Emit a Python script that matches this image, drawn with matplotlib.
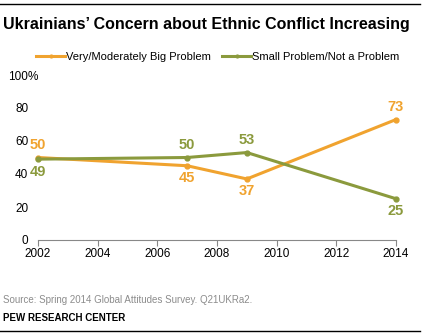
import matplotlib
matplotlib.use("Agg")
from matplotlib import pyplot as plt
from matplotlib.lines import Line2D

plt.rcParams['font.family'] = ['Liberation Sans', 'DejaVu Sans']

years = [2002, 2007, 2009, 2014]
big_problem = [50, 45, 37, 73]
small_problem = [49, 50, 53, 25]
series_names = ["Very/Moderately Big Problem", "Small Problem/Not a Problem"]
x_ticks = [2002, 2004, 2006, 2008, 2010, 2012, 2014]
y_ticks = [0, 20, 40, 60, 80, 100]
y_labels = ["0", "20", "40", "60", "80", "100"]

orange = '#F0A32F'
green = '#8B9A3D'

fig = plt.figure(figsize=(4.22, 3.35), dpi=100)
# pixel-based axes placement
W, H = 422, 335
x0, x1 = 38, 396
y0, y1 = 240, 75
ax = fig.add_axes([x0 / W, 1 - y0 / H, (x1 - x0) / W, (y0 - y1) / H])

ax.plot(years, big_problem, color=orange, lw=2.2, marker='o', ms=3.5, solid_capstyle='round')
ax.plot(years, small_problem, color=green, lw=2.2, marker='o', ms=3.5, solid_capstyle='round')

# value labels: above or below each point
big_pos = ['above', 'below', 'below', 'above']
small_pos = ['below', 'above', 'above', 'below']
for vals, pos, col in [(big_problem, big_pos, orange), (small_problem, small_pos, green)]:
    for x, v, p in zip(years, vals, pos):
        dy = 9 if p == 'above' else -9
        ax.annotate(str(v), (x, v), xytext=(0, dy), textcoords='offset points',
                    ha='center', va='center', color=col, fontsize=10.5, fontweight='bold')

ax.set_xlim(2002, 2014)
ax.set_ylim(0, 100)
ax.set_xticks(x_ticks)
ax.set_yticks(y_ticks)
ax.set_yticklabels(y_labels)
for s in ['top', 'right', 'left']:
    ax.spines[s].set_visible(False)
ax.spines['bottom'].set_color('#888888')
ax.spines['bottom'].set_linewidth(0.8)
ax.tick_params(axis='x', direction='out', length=4, color='#888888', labelsize=8.5, pad=2)
ax.tick_params(axis='y', length=0, labelsize=8.5, pad=7)
ax.patch.set_alpha(0)
for ln in ax.lines:
    ln.set_clip_on(False)
# percent sign after the top label
ax.annotate("%", (2002, 100), xytext=(-7.2, 0), textcoords='offset points',
            ha='left', va='center_baseline', fontsize=8.5)

# legend
handles = [Line2D([0], [0], color=orange, lw=2.2, marker='o', ms=2),
           Line2D([0], [0], color=green, lw=2.2, marker='o', ms=2)]
fig.legend(handles, series_names, loc='center', bbox_to_anchor=(218 / W, 1 - 57 / H), ncol=2,
           frameon=False, fontsize=8, handlelength=2.6, handletextpad=0.1, columnspacing=1.0)

# title and footer
fig.text(3 / W, 1 - 25 / H, "Ukrainians’ Concern about Ethnic Conflict Increasing",
         fontsize=11.5, fontweight='bold', va='center', ha='left')
fig.text(3 / W, 1 - 300 / H, "Source: Spring 2014 Global Attitudes Survey. Q21UKRa2.",
         fontsize=7, color='#8c8c8c', va='center', ha='left')
fig.text(3 / W, 1 - 318 / H, "PEW RESEARCH CENTER",
         fontsize=7, fontweight='bold', va='center', ha='left')

fig.add_artist(Line2D([0, 420 / W], [1 - 4 / H, 1 - 4 / H], color='black', lw=1))
fig.add_artist(Line2D([0, 420 / W], [1 - 331 / H, 1 - 331 / H], color='black', lw=1))

fig.savefig('out.png', dpi=100)
